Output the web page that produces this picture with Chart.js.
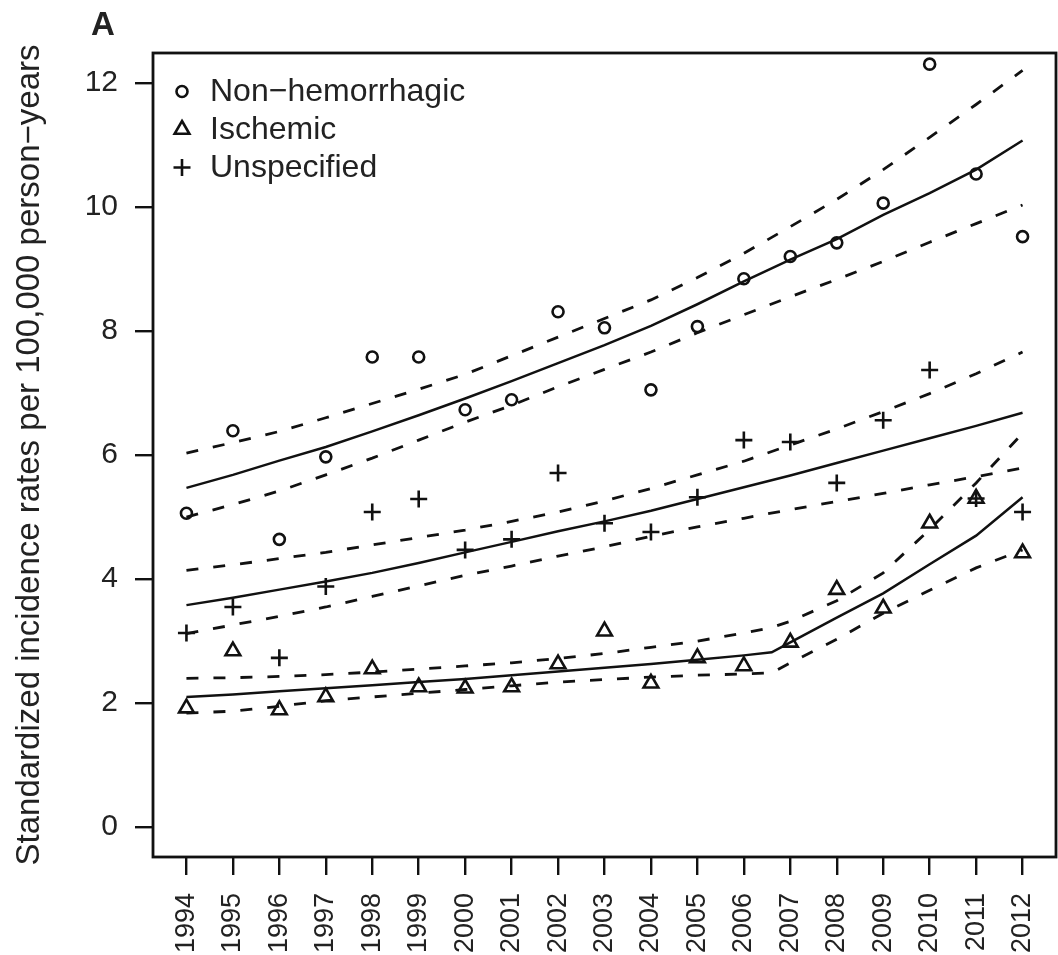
<!DOCTYPE html>
<html>
<head>
<meta charset="utf-8">
<title>Standardized incidence rates</title>
<script src="https://cdn.jsdelivr.net/npm/chart.js@4.4.1/dist/chart.umd.min.js"></script>
<style>
  html, body { margin: 0; padding: 0; background: #fff; }
  canvas { display: block; }
</style>
</head>
<body>
<canvas id="chart" width="1058" height="955"></canvas>
<script>
// observed rates
const years = [1994, 1995, 1996, 1997, 1998, 1999, 2000, 2001, 2002, 2003, 2004, 2005, 2006, 2007, 2008, 2009, 2010, 2011, 2012];
const nonHem = [5.06, 6.39, 4.64, 5.97, 7.58, 7.58, 6.73, 6.89, 8.31, 8.05, 7.05, 8.07, 8.84, 9.2, 9.42, 10.06, 12.3, 10.53, 9.52];
const ischemic = [1.92, 2.84, 1.89, 2.1, 2.55, 2.26, 2.24, 2.26, 2.63, 3.16, 2.32, 2.73, 2.6, 2.98, 3.83, 3.53, 4.9, 5.3, 4.42];
const unspec = [3.13, 3.55, 2.73, 3.88, 5.08, 5.29, 4.47, 4.64, 5.71, 4.9, 4.76, 5.32, 6.24, 6.21, 5.55, 6.56, 7.37, 5.3, 5.08];

// fitted trends with confidence bands
const nonHemFit = [5.47, 5.68, 5.91, 6.13, 6.38, 6.64, 6.91, 7.19, 7.48, 7.77, 8.08, 8.43, 8.8, 9.15, 9.48, 9.87, 10.22, 10.6, 11.07];
const nonHemLo = [5.0, 5.2, 5.42, 5.68, 5.95, 6.24, 6.53, 6.8, 7.1, 7.38, 7.66, 7.97, 8.26, 8.55, 8.83, 9.12, 9.43, 9.73, 10.03];
const nonHemHi = [6.03, 6.2, 6.38, 6.6, 6.83, 7.06, 7.3, 7.6, 7.9, 8.2, 8.5, 8.86, 9.25, 9.68, 10.12, 10.6, 11.12, 11.65, 12.2];

const unspecFit = [3.58, 3.7, 3.83, 3.96, 4.1, 4.26, 4.43, 4.6, 4.77, 4.93, 5.1, 5.29, 5.48, 5.67, 5.87, 6.07, 6.27, 6.47, 6.68];
const unspecLo = [3.12, 3.26, 3.4, 3.55, 3.72, 3.89, 4.06, 4.21, 4.37, 4.52, 4.69, 4.84, 4.98, 5.12, 5.25, 5.38, 5.52, 5.65, 5.79];
const unspecHi = [4.14, 4.23, 4.33, 4.43, 4.55, 4.67, 4.79, 4.93, 5.08, 5.26, 5.46, 5.68, 5.9, 6.16, 6.42, 6.7, 6.99, 7.31, 7.66];

// ischemic trend has a joinpoint in 2006
const ischFitYears = [1994, 1995, 1996, 1997, 1998, 1999, 2000, 2001, 2002, 2003, 2004, 2005, 2006, 2006.6, 2007, 2008, 2009, 2010, 2011, 2012];
const ischFit = [2.1, 2.14, 2.19, 2.24, 2.29, 2.34, 2.39, 2.45, 2.51, 2.57, 2.63, 2.7, 2.77, 2.82, 2.98, 3.38, 3.77, 4.24, 4.7, 5.32];
const ischLo = [1.84, 1.87, 1.95, 2.04, 2.1, 2.16, 2.22, 2.28, 2.34, 2.38, 2.42, 2.45, 2.47, 2.49, 2.65, 3.03, 3.45, 3.82, 4.18, 4.47];
const ischHi = [2.4, 2.41, 2.43, 2.46, 2.5, 2.55, 2.6, 2.65, 2.72, 2.8, 2.9, 3.0, 3.13, 3.22, 3.32, 3.65, 4.1, 4.8, 5.55, 6.35];

const yTicks = [0, 2, 4, 6, 8, 10, 12];

const ink = '#111';
const textInk = '#222';
const dash = [12, 15];

const pts = (xs, ys) => xs.map((x, i) => ({ x: x, y: ys[i] }));

function trend(label, xs, ys, dashed) {
  return {
    label: label,
    data: pts(xs, ys),
    showLine: true,
    borderColor: ink,
    borderWidth: dashed ? 2.8 : 2.5,
    borderDash: dashed ? dash : [],
    pointRadius: 0,
    fill: false,
    tension: 0
  };
}

function markers(label, ys, style, radius) {
  return {
    label: label,
    data: pts(years, ys),
    showLine: false,
    pointStyle: style,
    pointRadius: radius,
    pointBorderWidth: 2.6,
    pointBorderColor: ink,
    pointBackgroundColor: 'rgba(0,0,0,0)'
  };
}

const legendItems = [
  { text: 'Non\u2212hemorrhagic', style: 'circle', radius: 5.5 },
  { text: 'Ischemic', style: 'triangle', radius: 8.5 },
  { text: 'Unspecified', style: 'cross', radius: 8.5 }
];

// box, panel letter and legend
const decorations = {
  id: 'decorations',
  afterDraw(chart) {
    const ctx = chart.ctx;
    const a = chart.chartArea;
    ctx.save();
    ctx.strokeStyle = ink;
    ctx.lineWidth = 2.8;
    ctx.strokeRect(a.left, a.top, a.right - a.left, a.bottom - a.top);

    ctx.fillStyle = textInk;
    ctx.font = "bold 33px 'Liberation Sans', Arial, sans-serif";
    ctx.textAlign = 'center';
    ctx.textBaseline = 'alphabetic';
    ctx.fillText('A', 103, 35);

    ctx.font = "32px 'Liberation Sans', Arial, sans-serif";
    ctx.textAlign = 'left';
    ctx.textBaseline = 'middle';
    legendItems.forEach((item, i) => {
      const y = 91.5 + i * 38;
      ctx.strokeStyle = ink;
      ctx.fillStyle = 'rgba(0,0,0,0)';
      ctx.lineWidth = 2.6;
      Chart.helpers.drawPoint(ctx, { pointStyle: item.style, radius: item.radius, borderWidth: 2.6, rotation: 0 }, 182, y);
      ctx.fillStyle = textInk;
      ctx.fillText(item.text, 210, y + 1);
    });
    ctx.restore();
  }
};

new Chart(document.getElementById('chart'), {
  type: 'scatter',
  data: {
    datasets: [
      trend('Non-hemorrhagic trend', years, nonHemFit, false),
      trend('Non-hemorrhagic lower', years, nonHemLo, true),
      trend('Non-hemorrhagic upper', years, nonHemHi, true),
      trend('Unspecified trend', years, unspecFit, false),
      trend('Unspecified lower', years, unspecLo, true),
      trend('Unspecified upper', years, unspecHi, true),
      trend('Ischemic trend', ischFitYears, ischFit, false),
      trend('Ischemic lower', ischFitYears, ischLo, true),
      trend('Ischemic upper', ischFitYears, ischHi, true),
      markers('Non-hemorrhagic', nonHem, 'circle', 5.5),
      markers('Ischemic', ischemic, 'triangle', 8.5),
      markers('Unspecified', unspec, 'cross', 8.5)
    ]
  },
  options: {
    responsive: false,
    animation: false,
    events: [],
    layout: { autoPadding: false, padding: { top: 53, right: 2, left: 0, bottom: 0 } },
    plugins: {
      legend: { display: false },
      tooltip: { enabled: false }
    },
    scales: {
      x: {
        type: 'linear',
        min: 1993.28,
        max: 2012.72,
        afterBuildTicks: s => { s.ticks = years.map(v => ({ value: v })); },
        afterFit: s => { s.height = 98; s.paddingLeft = 0; s.paddingRight = 0; },
        border: { display: false },
        grid: { drawOnChartArea: false, drawTicks: true, tickLength: 18, color: ink, lineWidth: 2.4 },
        ticks: {
          autoSkip: false,
          maxRotation: 90,
          minRotation: 90,
          padding: 18,
          color: textInk,
          font: { family: "'Liberation Sans', Arial, sans-serif", size: 27 },
          callback: v => String(v)
        }
      },
      y: {
        type: 'linear',
        min: -0.48,
        max: 12.48,
        afterBuildTicks: s => { s.ticks = yTicks.map(v => ({ value: v })); },
        afterFit: s => { s.width = 153; s.paddingTop = 0; s.paddingBottom = 0; },
        border: { display: false },
        grid: { drawOnChartArea: false, drawTicks: true, tickLength: 18, color: ink, lineWidth: 2.4 },
        ticks: {
          padding: 17,
          color: textInk,
          font: { family: "'Liberation Sans', Arial, sans-serif", size: 30 },
          callback: v => String(v)
        },
        title: {
          display: true,
          text: 'Standardized incidence rates per 100,000 person\u2212years',
          color: textInk,
          padding: { top: 10, bottom: 0 },
          font: { family: "'Liberation Sans', Arial, sans-serif", size: 33, lineHeight: 1.2 }
        }
      }
    }
  },
  plugins: [decorations]
});
</script>
</body>
</html>
